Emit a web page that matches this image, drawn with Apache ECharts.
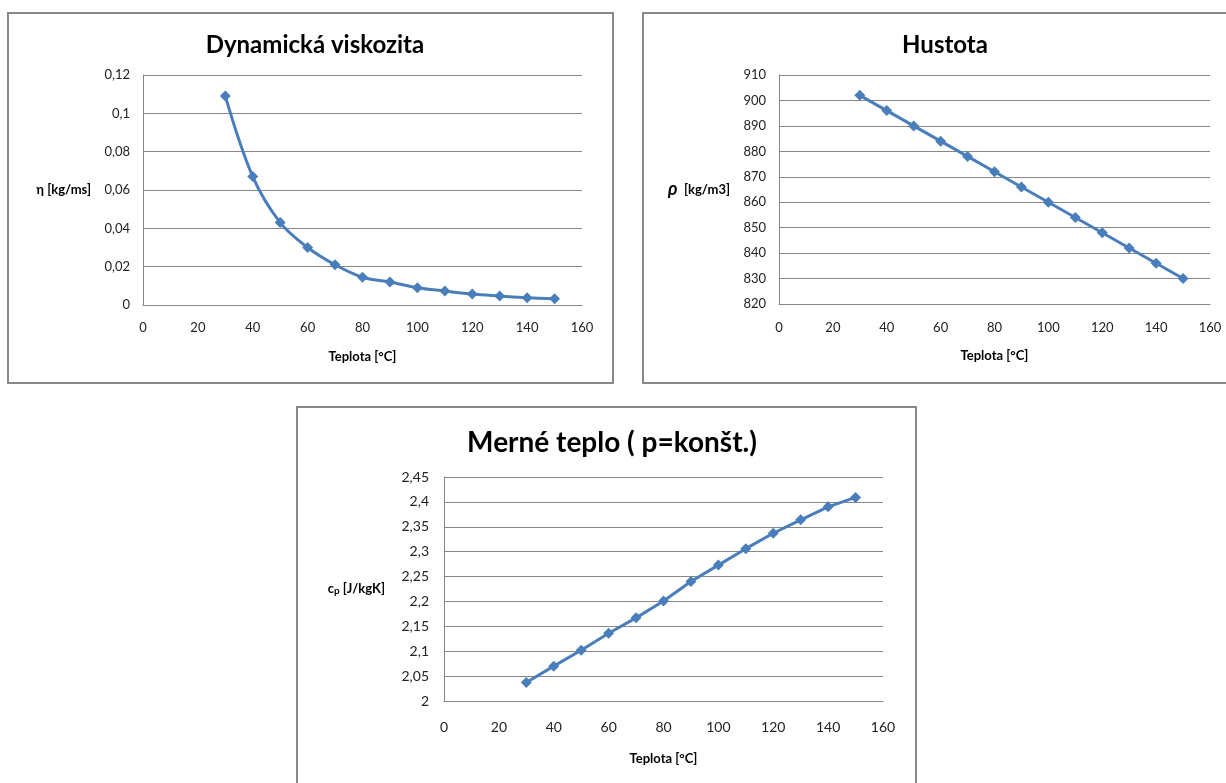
<!DOCTYPE html>
<html><head><meta charset="utf-8">
<script src="https://cdn.jsdelivr.net/npm/echarts@6/dist/echarts.min.js"></script>
<style>html,body{margin:0;padding:0;background:#fff;overflow:hidden}#c{width:1226px;height:783px}</style>
</head><body><div id="c"></div><script>
// ---- data ----
const temps = [30, 40, 50, 60, 70, 80, 90, 100, 110, 120, 130, 140, 150];
const viscosity = [0.109, 0.067, 0.043, 0.030, 0.021, 0.0145, 0.012, 0.009, 0.0073, 0.0057, 0.0047, 0.0038, 0.0033];
const density = [902, 896, 890, 884, 878, 872, 866, 860, 854, 848, 842, 836, 830];
const heatCapacity = [2.037, 2.070, 2.102, 2.136, 2.167, 2.201, 2.240, 2.273, 2.306, 2.337, 2.364, 2.390, 2.409];
const chartTitles = ['Dynamická viskozita', 'Hustota', 'Merné teplo ( p=konšt.)'];
const xAxisName = 'Teplota [°C]';
const yAxisNames = ['η [kg/ms]', '{r|ρ}  [kg/m3]', '{c|c}{p|p} [J/kgK]'];
const xRange = {min: 0, max: 160, interval: 20};
const yRanges = [
  {min: 0, max: 0.12, interval: 0.02},
  {min: 820, max: 910, interval: 10},
  {min: 2, max: 2.45, interval: 0.05}
];

const FONT = 'Lato, "Open Sans", "DejaVu Sans", sans-serif';
const GRID_COLOR = '#868686';
const LINE_COLOR = '#4a7ebb';

const comma = v => String(+(+v).toFixed(4)).replace('.', ',');
const pairs = vals => temps.map((t, i) => [t, vals[i]]);

const grids = [
  {left: 143, top: 75, width: 439, height: 230},
  {left: 779, top: 75, width: 431, height: 229},
  {left: 444, top: 477, width: 439, height: 224}
];

const xLabelMargin = [16, 17, 19];
const xNameGap = [45, 45, 51];
const yLabelMargin = [13, 13, 15];
const yNameGap = [52, 49, 59];
const labelSize = [13, 13, 14];

const option = {
  backgroundColor: '#fff',
  animation: false,
  graphic: [
    {type: 'rect', shape: {x: 8, y: 13, width: 605, height: 370}, style: {fill: 'none', stroke: '#888', lineWidth: 2}},
    {type: 'rect', shape: {x: 643, y: 13, width: 620, height: 370}, style: {fill: 'none', stroke: '#888', lineWidth: 2}},
    {type: 'rect', shape: {x: 297, y: 407, width: 619, height: 400}, style: {fill: 'none', stroke: '#888', lineWidth: 2}}
  ],
  title: [
    {text: chartTitles[0], left: 310, top: 28, textAlign: 'center', textStyle: {fontFamily: FONT, fontWeight: 'bold', fontSize: 24, color: '#000'}},
    {text: chartTitles[1], left: 940, top: 28, textAlign: 'center', textStyle: {fontFamily: FONT, fontWeight: 'bold', fontSize: 24, color: '#000'}},
    {text: chartTitles[2], left: 607, top: 424, textAlign: 'center', textStyle: {fontFamily: FONT, fontWeight: 'bold', fontSize: 28, color: '#000'}}
  ],
  grid: grids,
  xAxis: grids.map((g, i) => ({
    type: 'value', gridIndex: i, min: xRange.min, max: xRange.max, interval: xRange.interval,
    name: xAxisName, nameLocation: 'middle', nameGap: xNameGap[i],
    nameTextStyle: {fontFamily: FONT, fontWeight: 'bold', fontSize: 13, color: '#000'},
    axisLine: {show: true, lineStyle: {color: GRID_COLOR, width: 1}},
    axisTick: {show: false},
    splitLine: {show: false},
    axisLabel: {margin: xLabelMargin[i], fontFamily: FONT, fontSize: labelSize[i], color: '#222'}
  })),
  yAxis: grids.map((g, i) => ({
    type: 'value', gridIndex: i, min: yRanges[i].min, max: yRanges[i].max, interval: yRanges[i].interval,
    name: yAxisNames[i], nameLocation: 'middle', nameRotate: 0, nameGap: yNameGap[i],
    nameTextStyle: {fontFamily: FONT, fontWeight: 'bold', fontSize: 13, color: '#000', align: 'right',
      rich: {
        r: {fontFamily: FONT, fontStyle: 'italic', fontSize: 18, color: '#000'},
        c: {fontFamily: FONT, fontWeight: 'bold', fontSize: 13, color: '#000'},
        p: {fontFamily: FONT, fontWeight: 'bold', fontSize: 10, color: '#000', padding: [4, 0, 0, 0]}
      }},
    axisLine: {show: true, lineStyle: {color: GRID_COLOR, width: 1}},
    axisTick: {show: false},
    splitLine: {show: true, lineStyle: {color: GRID_COLOR, width: 1}},
    axisLabel: {margin: yLabelMargin[i], fontFamily: FONT, fontSize: labelSize[i], color: '#222', formatter: comma}
  })),
  series: [
    {type: 'line', xAxisIndex: 0, yAxisIndex: 0, data: pairs(viscosity), smooth: 0.35},
    {type: 'line', xAxisIndex: 1, yAxisIndex: 1, data: pairs(density), smooth: false},
    {type: 'line', xAxisIndex: 2, yAxisIndex: 2, data: pairs(heatCapacity), smooth: false}
  ].map(s => Object.assign(s, {
    symbol: 'diamond', symbolSize: 11, showSymbol: true,
    lineStyle: {color: LINE_COLOR, width: 3},
    itemStyle: {color: LINE_COLOR, borderWidth: 0}
  }))
};

const chart = echarts.init(document.getElementById('c'), null, {renderer: 'canvas'});
chart.setOption(option);
</script></body></html>
